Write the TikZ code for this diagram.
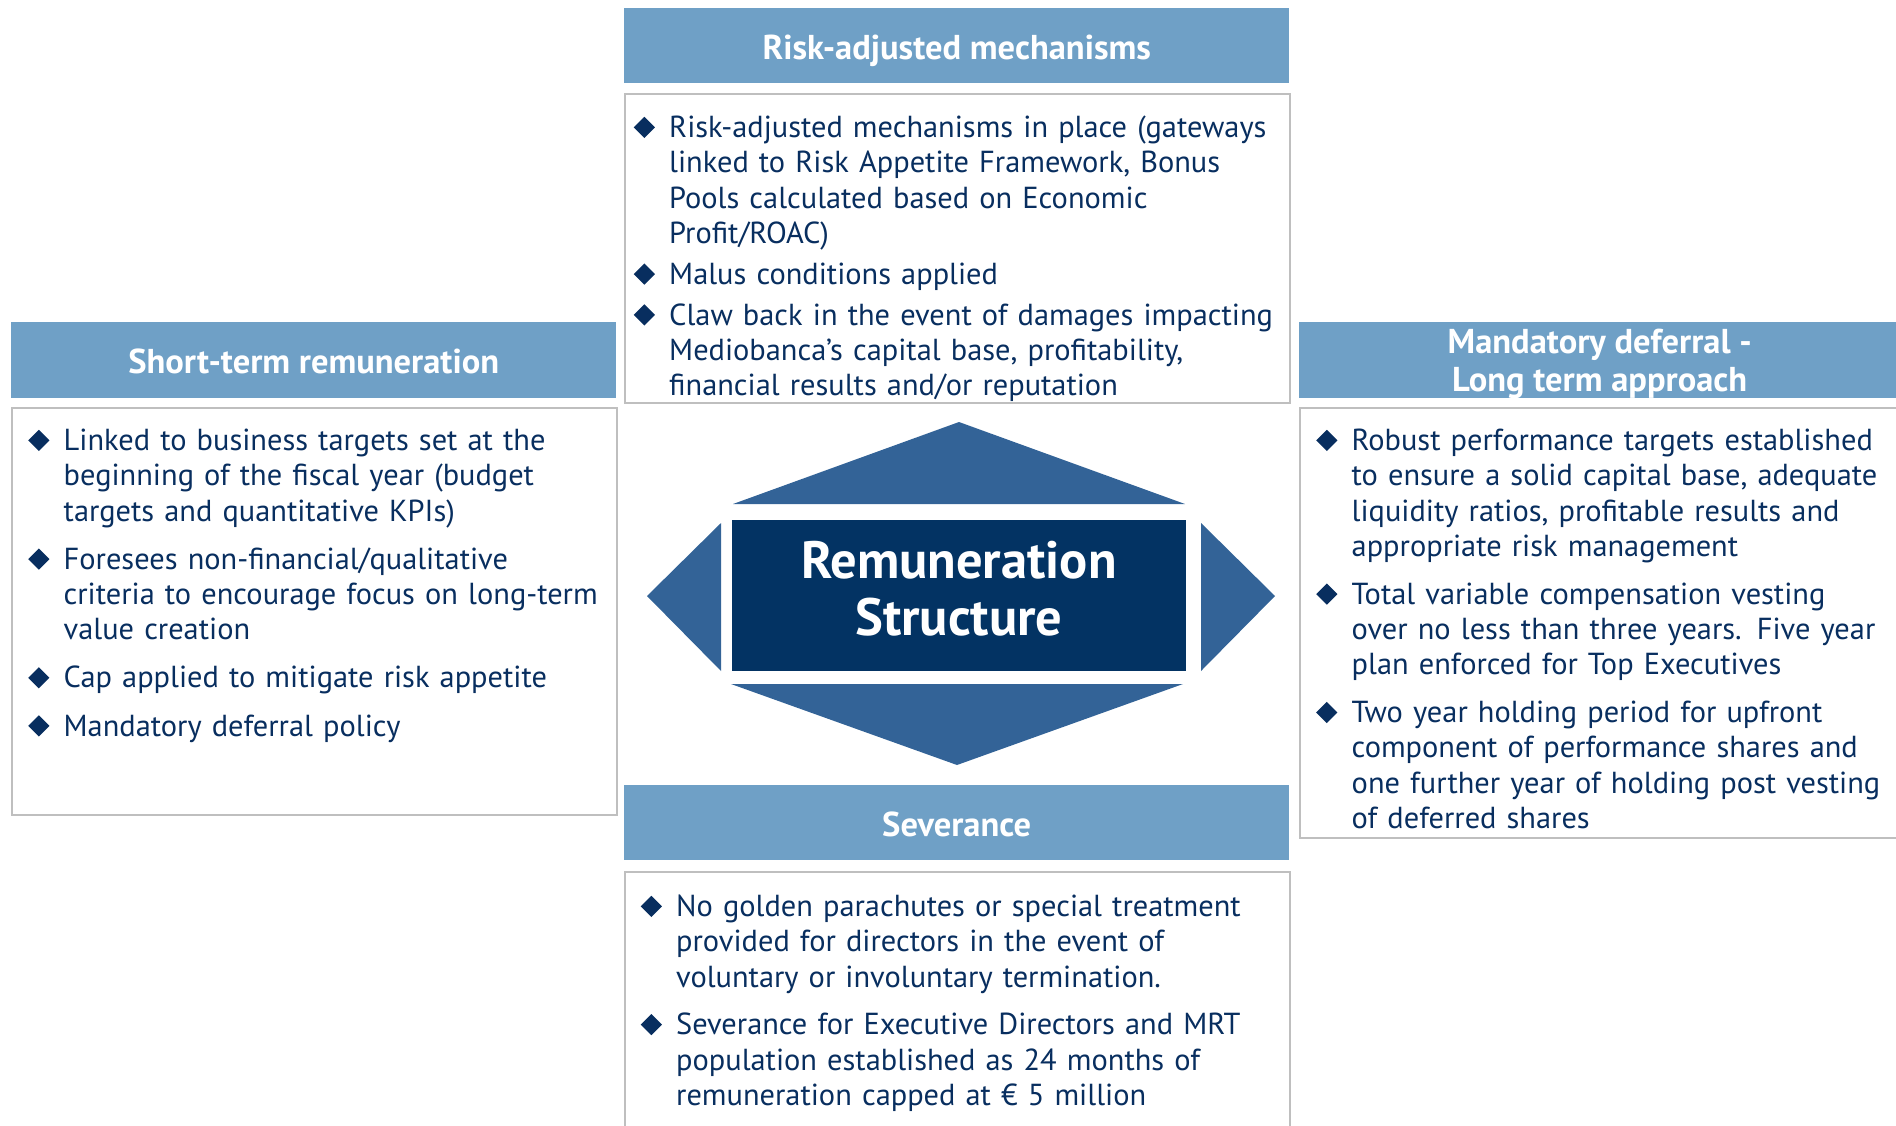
\documentclass[tikz,border=0pt]{standalone}
\usepackage{fontspec}
\setmainfont{PT Sans}
\usepackage{tikz}
\usetikzlibrary{positioning,calc}

\definecolor{hdrblue}{RGB}{111,160,198}
\definecolor{navy}{RGB}{3,51,99}
\definecolor{midblue}{RGB}{51,99,151}
\definecolor{textnavy}{RGB}{8,46,95}
\definecolor{boxgray}{RGB}{191,191,191}

\newcommand{\bmark}{\textcolor{textnavy}{\raisebox{-0.5pt}{\rotatebox{45}{\rule{15pt}{15pt}}}}}
\newcommand{\bitem}[1]{\hangindent=35.5pt\hangafter=1\noindent\makebox[35.5pt][l]{\bmark}#1\par}

\begin{document}
\begin{tikzpicture}[x=1pt,y=-1pt,
  hdr/.style={fill=hdrblue,text=white,font=\fontsize{34.5}{38}\selectfont\bfseries,anchor=north west,inner sep=0pt,align=center,text depth=3pt},
  hdrone/.style={hdr,text height=30pt},
  bodybox/.style={draw=boxgray,line width=2pt,anchor=north west,inner sep=0pt},
  itemtext/.style={anchor=base west,inner sep=0pt,text width=760pt,align=left,text=textnavy,font=\fontsize{30.4}{35.3}\selectfont}]
\clip (0,0) rectangle (1896,1125);

% headers and boxes
\node[hdrone,minimum width=665pt,minimum height=75pt] (riskhdr) at (624,8) {Risk-adjusted mechanisms};
\node[bodybox,minimum width=665pt,minimum height=309pt] (riskbox) at (624,93) {};
\node[hdrone,minimum width=605pt,minimum height=76pt] (shorthdr) at (11,322) {Short-term remuneration};
\node[bodybox,minimum width=605pt,minimum height=407pt] (shortbox) at (11,407) {};
\node[hdr,minimum width=601pt,minimum height=76pt,text depth=0pt] (deferhdr) at (1299,322) {Mandatory deferral -\\Long term approach};
\node[bodybox,minimum width=601pt,minimum height=430pt] (deferbox) at (1299,407) {};
\node[hdrone,minimum width=665pt,minimum height=75pt] (sevhdr) at (624,785) {Severance};
\node[bodybox,minimum width=665pt,minimum height=290pt] (sevbox) at (624,871) {};

% centre piece
\fill[midblue] (733,504) -- (959,422) -- (1185,504) -- cycle;
\fill[midblue] (731,684) -- (1183,684) -- (957,765) -- cycle;
\fill[midblue] (721,523) -- (721,671) -- (647,596) -- cycle;
\fill[midblue] (1201,523) -- (1201,671) -- (1275,596) -- cycle;
\node[fill=navy,text=white,minimum width=454pt,minimum height=151pt,inner sep=0pt,align=center,text depth=14pt,font=\fontsize{52.5}{57}\selectfont\bfseries] (struct) at (959,595.5) {Remuneration\\Structure};

% bullet texts
\node[itemtext] (risktxt) at (633.5,137.5) {\setlength{\parskip}{5.5pt}%
\bitem{Risk-adjusted mechanisms in place (gateways\newline linked to Risk Appetite Framework, Bonus\newline Pools calculated based on Economic\newline Profit/ROAC)}
\bitem{Malus conditions applied}
\bitem{Claw back in the event of damages impacting\newline Mediobanca’s capital base, profitability,\newline financial results and/or reputation}};

\node[itemtext] (shorttxt) at (28,450.5) {\setlength{\parskip}{12.8pt}%
\bitem{Linked to business targets set at the\newline beginning of the fiscal year (budget\newline targets and quantitative KPIs)}
\bitem{Foresees non-financial/qualitative\newline criteria to encourage focus on long-term\newline value creation}
\bitem{Cap applied to mitigate risk appetite}
\bitem{Mandatory deferral policy}};

\node[itemtext] (defertxt) at (1316,450.5) {\setlength{\parskip}{12.5pt}%
\bitem{Robust performance targets established\newline to ensure a solid capital base, adequate\newline liquidity ratios, profitable results and\newline appropriate risk management}
\bitem{Total variable compensation vesting\newline over no less than three years. Five year\newline plan enforced for Top Executives}
\bitem{Two year holding period for upfront\newline component of performance shares and\newline one further year of holding post vesting\newline of deferred shares}};

\node[itemtext] (sevtxt) at (640.5,916.5) {\setlength{\parskip}{12.3pt}%
\bitem{No golden parachutes or special treatment\newline provided for directors in the event of\newline voluntary or involuntary termination.}
\bitem{Severance for Executive Directors and MRT\newline population established as 24 months of\newline remuneration capped at € 5 million}};
\end{tikzpicture}
\end{document}
